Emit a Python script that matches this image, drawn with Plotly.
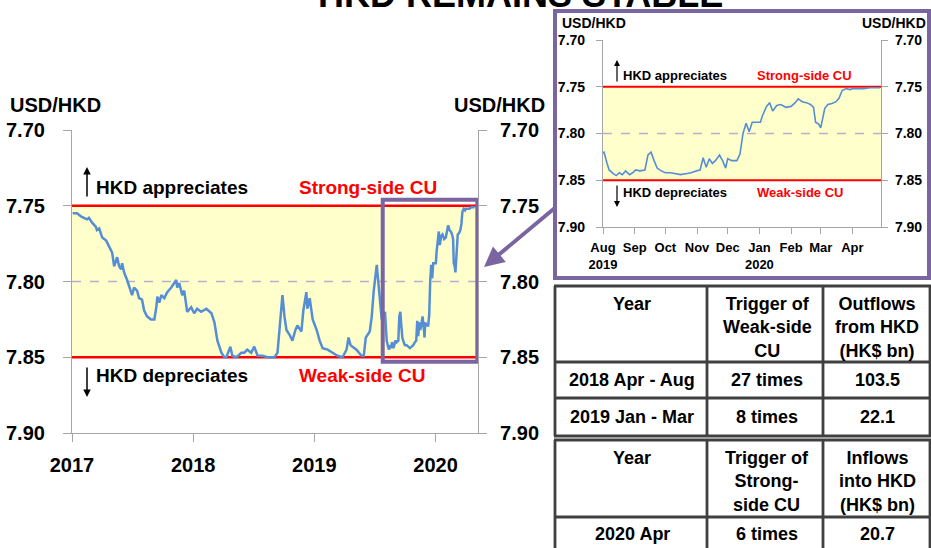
import plotly.graph_objects as go

# ---------------- data ----------------
dates = [
    "2017-01-03", "2017-01-16", "2017-01-28", "2017-02-06", "2017-02-15", "2017-02-21",
    "2017-03-02", "2017-03-14", "2017-03-17", "2017-03-24", "2017-04-02", "2017-04-14",
    "2017-04-23", "2017-05-02", "2017-05-08", "2017-05-17", "2017-05-23", "2017-05-29",
    "2017-06-01", "2017-06-07", "2017-06-16", "2017-06-28", "2017-07-01", "2017-07-07",
    "2017-07-16", "2017-07-22", "2017-07-31", "2017-08-06", "2017-08-15", "2017-08-27",
    "2017-09-06", "2017-09-12", "2017-09-15", "2017-09-21", "2017-09-27", "2017-10-06",
    "2017-10-15", "2017-10-27", "2017-11-05", "2017-11-11", "2017-11-14", "2017-11-20",
    "2017-11-29", "2017-12-05", "2017-12-14", "2017-12-26", "2018-01-04", "2018-01-13",
    "2018-01-25", "2018-02-10", "2018-02-25", "2018-03-06", "2018-03-15", "2018-03-27",
    "2018-04-05", "2018-04-11", "2018-04-23", "2018-04-29", "2018-05-11", "2018-05-26",
    "2018-06-04", "2018-06-13", "2018-06-25", "2018-07-04", "2018-07-14", "2018-07-29",
    "2018-08-13", "2018-09-03", "2018-09-12", "2018-09-21", "2018-09-27", "2018-10-03",
    "2018-10-09", "2018-10-18", "2018-10-27", "2018-11-05", "2018-11-11", "2018-11-23",
    "2018-11-29", "2018-12-08", "2018-12-11", "2018-12-18", "2018-12-27", "2019-01-08",
    "2019-01-17", "2019-01-26", "2019-02-10", "2019-02-25", "2019-03-12", "2019-03-27",
    "2019-04-08", "2019-04-14", "2019-04-20", "2019-04-26", "2019-05-08", "2019-05-23",
    "2019-05-30", "2019-06-05", "2019-06-11", "2019-06-17", "2019-06-23", "2019-06-29",
    "2019-07-08", "2019-07-11", "2019-07-17", "2019-07-23",
    "2019-08-01", "2019-08-02", "2019-08-05", "2019-08-07", "2019-08-11", "2019-08-14",
    "2019-08-17", "2019-08-20", "2019-08-23", "2019-08-27", "2019-08-30", "2019-09-02",
    "2019-09-06", "2019-09-11", "2019-09-14", "2019-09-17", "2019-09-20", "2019-09-23",
    "2019-09-27", "2019-10-01", "2019-10-06", "2019-10-11", "2019-10-16", "2019-10-21",
    "2019-10-26", "2019-10-31", "2019-11-04", "2019-11-07", "2019-11-10", "2019-11-13",
    "2019-11-16", "2019-11-19", "2019-11-23", "2019-11-26", "2019-11-29", "2019-12-01",
    "2019-12-05", "2019-12-10", "2019-12-13", "2019-12-16", "2019-12-19", "2019-12-22",
    "2019-12-25", "2019-12-29", "2020-01-02", "2020-01-04", "2020-01-08", "2020-01-11",
    "2020-01-14", "2020-01-18", "2020-01-22", "2020-01-27", "2020-02-01", "2020-02-05",
    "2020-02-08", "2020-02-12", "2020-02-16", "2020-02-20", "2020-02-23", "2020-02-25",
    "2020-02-28", "2020-03-01", "2020-03-02", "2020-03-05", "2020-03-08", "2020-03-12",
    "2020-03-16", "2020-03-19", "2020-03-22", "2020-03-26", "2020-03-30", "2020-04-01",
    "2020-04-06", "2020-04-12", "2020-04-18", "2020-04-24", "2020-04-28",
]
usd_hkd = [
    7.755, 7.755, 7.757, 7.758, 7.759, 7.758,
    7.761, 7.764, 7.766, 7.765, 7.771, 7.773,
    7.777, 7.781, 7.790, 7.784, 7.790, 7.792,
    7.788, 7.794, 7.799, 7.806, 7.809, 7.804,
    7.806, 7.811, 7.812, 7.819, 7.823, 7.825,
    7.825, 7.817, 7.810, 7.814, 7.809, 7.811,
    7.807, 7.804, 7.801, 7.799, 7.804, 7.801,
    7.809, 7.806, 7.820, 7.817, 7.821, 7.818,
    7.820, 7.818, 7.821, 7.827, 7.839, 7.847,
    7.850, 7.850, 7.843, 7.849, 7.850, 7.847,
    7.847, 7.845, 7.847, 7.843, 7.849, 7.849,
    7.850, 7.850, 7.847, 7.827, 7.809, 7.823,
    7.832, 7.835, 7.839, 7.832, 7.829, 7.833,
    7.819, 7.807, 7.818, 7.811, 7.825, 7.832,
    7.839, 7.844, 7.845, 7.847, 7.849, 7.850,
    7.845, 7.837, 7.842, 7.843, 7.845, 7.849,
    7.849, 7.837, 7.835, 7.833, 7.823, 7.806,
    7.789, 7.796, 7.806, 7.825,
    7.821, 7.820, 7.832, 7.839, 7.843, 7.845,
    7.842, 7.844, 7.840, 7.844, 7.842, 7.839,
    7.840, 7.839, 7.823, 7.820, 7.829, 7.837,
    7.840, 7.842, 7.842, 7.843, 7.844, 7.843,
    7.842, 7.840, 7.839, 7.826, 7.836, 7.827,
    7.832, 7.829, 7.823, 7.829, 7.837, 7.827,
    7.829, 7.829, 7.822, 7.800, 7.789, 7.798,
    7.788, 7.788, 7.788, 7.781, 7.771, 7.767,
    7.776, 7.770, 7.769, 7.772, 7.771, 7.767,
    7.763, 7.766, 7.767, 7.769, 7.772, 7.788,
    7.790, 7.794, 7.789, 7.773, 7.769, 7.768,
    7.766, 7.762, 7.754, 7.752, 7.753, 7.752,
    7.752, 7.752, 7.751, 7.751, 7.751,
]

strong_side_cu = 7.75
weak_side_cu = 7.85
mid_rate = 7.80
y_ticks = [7.70, 7.75, 7.80, 7.85, 7.90]

main_range = ["2017-01-01", "2020-05-08"]
main_year_ticks = ["2017-01-01", "2018-01-01", "2019-01-01", "2020-01-01"]
inset_start = "2019-08-01"
inset_range = ["2019-08-01", "2020-04-29"]
inset_month_ticks = ["2019-08-01", "2019-09-01", "2019-10-01", "2019-11-01", "2019-12-01",
                     "2020-01-01", "2020-02-01", "2020-03-01", "2020-04-01"]
inset_month_labels = ["Aug<br>2019", "Sep", "Oct", "Nov", "Dec", "Jan<br>2020", "Feb", "Mar", "Apr"]

t1_header = ["Year", "Trigger of<br>Weak-side<br>CU", "Outflows<br>from HKD<br>(HK$ bn)"]
t1_period = ["2018 Apr - Aug", "2019 Jan - Mar"]
t1_trigger = ["27 times", "8 times"]
t1_flows = [103.5, 22.1]
t2_header = ["Year", "Trigger of<br>Strong-<br>side CU", "Inflows<br>into HKD<br>(HK$ bn)"]
t2_period = ["2020 Apr"]
t2_trigger = ["6 times"]
t2_flows = [20.7]

# ---------------- styling ----------------
W, H = 931, 548
FONT = "Liberation Sans, Arial, sans-serif"
BLUE = "#558ED5"
RED = "#FF0000"
YELLOW = "#FFFFCC"
PURPLE = "#7A65A0"
AXIS = "#A6A6A6"
GRIDDASH = "#B8AECF"
TABLE_LINE = "#404040"
TABLE_FONT = 18


def px(x):
    return x / W


def py(y):
    return 1 - y / H


inset_dates = [d for d in dates if d >= inset_start]
inset_vals = [v for d, v in zip(dates, usd_hkd) if d >= inset_start]

fig = go.Figure()
fig.add_trace(go.Scatter(x=dates, y=usd_hkd, mode="lines", line=dict(color=BLUE, width=2.5),
                         xaxis="x", yaxis="y", showlegend=False, hoverinfo="skip"))
fig.add_trace(go.Scatter(x=dates, y=usd_hkd, mode="lines", line=dict(width=0), opacity=0,
                         xaxis="x", yaxis="y2", showlegend=False, hoverinfo="skip"))
fig.add_trace(go.Scatter(x=inset_dates, y=inset_vals, mode="lines", line=dict(color=BLUE, width=1.6),
                         xaxis="x2", yaxis="y3", showlegend=False, hoverinfo="skip"))
fig.add_trace(go.Scatter(x=inset_dates, y=inset_vals, mode="lines", line=dict(width=0), opacity=0,
                         xaxis="x2", yaxis="y4", showlegend=False, hoverinfo="skip"))


def yax(domain, side, size, ticklen, standoff, overlay=None, anchor=None):
    d = dict(domain=domain, range=[7.90, 7.70], tickvals=y_ticks, tickformat=".2f",
             showgrid=False, zeroline=False, showline=True, linecolor=AXIS, linewidth=1.2,
             ticks="outside", ticklen=ticklen, tickcolor=AXIS, tickwidth=1.2,
             ticklabelstandoff=standoff, side=side, fixedrange=True, automargin=False,
             tickfont=dict(family=FONT, size=size, color="black", weight="bold"))
    if overlay:
        d["overlaying"] = overlay
    if anchor:
        d["anchor"] = anchor
    return d


main_dom_x = [px(72), px(478)]
main_dom_y = [py(433), py(130)]
ins_dom_x = [px(603), px(881)]
ins_dom_y = [py(227), py(40)]

fig.update_layout(
    width=W, height=H, margin=dict(l=0, r=0, t=0, b=0, autoexpand=False),
    paper_bgcolor="white", plot_bgcolor="rgba(0,0,0,0)",
    font=dict(family=FONT, color="black"),
    xaxis=dict(domain=main_dom_x, type="date", range=main_range, anchor="y",
               tickvals=main_year_ticks, tickformat="%Y", showgrid=False, zeroline=False,
               showline=True, linecolor=AXIS, linewidth=1.2, ticks="outside", ticklen=8,
               tickcolor=AXIS, tickwidth=1.2, ticklabelstandoff=6, fixedrange=True,
               automargin=False,
               tickfont=dict(family=FONT, size=20, color="black", weight="bold")),
    yaxis=yax(main_dom_y, "left", 20, 8, 14, anchor="x"),
    yaxis2=yax(main_dom_y, "right", 20, 8, 9, overlay="y", anchor="x"),
    xaxis2=dict(domain=ins_dom_x, type="date", range=inset_range, anchor="y3",
                tickvals=inset_month_ticks, ticktext=inset_month_labels,
                showgrid=False, zeroline=False, showline=True,
                linecolor=AXIS, linewidth=1.2, ticks="outside", ticklen=6, tickcolor=AXIS,
                tickwidth=1.2, ticklabelstandoff=2, fixedrange=True, tickangle=0,
                automargin=False,
                tickfont=dict(family=FONT, size=13, color="black", weight="bold")),
    yaxis3=yax(ins_dom_y, "left", 14, 6, 8, anchor="x2"),
    yaxis4=yax(ins_dom_y, "right", 14, 6, 4, overlay="y3", anchor="x2"),
)

shapes = []
# inset frame
shapes.append(dict(type="rect", xref="paper", yref="paper", x0=px(555), x1=px(929),
                   y0=py(278), y1=py(11), fillcolor="white", line=dict(color=PURPLE, width=4),
                   layer="below"))
for xa, ya, rw in [("x", "y", 2.5), ("x2", "y3", 2)]:
    shapes.append(dict(type="rect", xref=f"{xa} domain", yref=ya, x0=0, x1=1,
                       y0=strong_side_cu, y1=weak_side_cu, fillcolor=YELLOW,
                       line=dict(width=0), layer="below"))
    shapes.append(dict(type="line", xref=f"{xa} domain", yref=ya, x0=0, x1=1,
                       y0=mid_rate, y1=mid_rate, line=dict(color=GRIDDASH, width=1.5, dash="dash"),
                       layer="below"))
    for lvl in (strong_side_cu, weak_side_cu):
        shapes.append(dict(type="line", xref=f"{xa} domain", yref=ya, x0=0, x1=1,
                           y0=lvl, y1=lvl, line=dict(color=RED, width=rw), layer="below"))
# highlight box on main chart
shapes.append(dict(type="rect", xref="x", yref="y", x0="2019-07-26", x1="2020-05-06",
                   y0=7.746, y1=7.853, line=dict(color=PURPLE, width=4), layer="above"))

ann = []


def text(t, x, y, size, color="black", xanchor="left", yanchor="middle"):
    ann.append(dict(text=f"<b>{t}</b>", x=px(x), y=py(y), xref="paper", yref="paper",
                    xanchor=xanchor, yanchor=yanchor, showarrow=False,
                    font=dict(family=FONT, size=size, color=color)))


def arrow(x, y_head, y_tail, width=1.5, color="black", ax=0, head=2, size=1.0):
    ann.append(dict(text="", x=px(x), y=py(y_head), xref="paper", yref="paper",
                    showarrow=True, ax=ax, ay=y_tail - y_head, arrowhead=head,
                    arrowsize=size, arrowwidth=width, arrowcolor=color))


# ---------------- tables (grid + text built from the lists) ----------------
col_edges = [555, 707, 823, 930]
col_centers = [632, 767, 877]


def table(header, columns, top, header_h, row_hs, bottom_open=False):
    row_edges = [top, top + header_h]
    for h in row_hs:
        row_edges.append(row_edges[-1] + h)
    bottom = row_edges[-1]
    for i, yv in enumerate(row_edges):
        if bottom_open and i == len(row_edges) - 1:
            continue
        shapes.append(dict(type="line", xref="paper", yref="paper", x0=px(col_edges[0] - 1),
                           x1=px(col_edges[-1] + 1), y0=py(yv), y1=py(yv),
                           line=dict(color=TABLE_LINE, width=2.8)))
    for xv in col_edges:
        shapes.append(dict(type="line", xref="paper", yref="paper", x0=px(xv), x1=px(xv),
                           y0=py(top), y1=py(bottom), line=dict(color=TABLE_LINE, width=2.8)))
    for c, h in enumerate(header):
        text(h, col_centers[c], top + 6, TABLE_FONT, xanchor="center", yanchor="top")
    for c, col in enumerate(columns):
        for r, v in enumerate(col):
            ymid = (row_edges[r + 1] + row_edges[r + 2]) / 2
            text(v, col_centers[c], ymid, TABLE_FONT, xanchor="center", yanchor="middle")


table(t1_header, [t1_period, t1_trigger, [f"{v:.1f}" for v in t1_flows]],
      top=286, header_h=76, row_hs=[36, 38])
table(t2_header, [t2_period, t2_trigger, [f"{v:.1f}" for v in t2_flows]],
      top=440, header_h=77, row_hs=[34], bottom_open=False)

# title (mostly clipped by top edge)
text("HKD REMAINS STABLE", 520, 17, 36, xanchor="center", yanchor="bottom")

# main chart labels
text("USD/HKD", 8, 105, 20)
text("USD/HKD", 547, 105, 20, xanchor="right")
text("HKD appreciates", 94, 187, 19)
text("Strong-side CU", 297, 187, 19, color=RED)
text("HKD depreciates", 94, 375, 19)
text("Weak-side CU", 297, 375, 19, color=RED)
arrow(87, 167, 198)
arrow(87, 397, 366)

# inset labels
text("USD/HKD", 560, 23, 14)
text("USD/HKD", 928, 23, 14, xanchor="right")
text("HKD appreciates", 621, 76, 13)
text("Strong-side CU", 755, 76, 13, color=RED)
text("HKD depreciates", 621, 192, 13)
text("Weak-side CU", 755, 192, 13, color=RED)
arrow(617, 60, 83, width=1.2)
arrow(617, 207, 184, width=1.2)

# connector arrow from inset to highlight box
ann.append(dict(text="", x=px(484), y=py(267), xref="paper", yref="paper", showarrow=True,
                ax=72, ay=-60, arrowhead=2, arrowsize=1, arrowwidth=4, arrowcolor=PURPLE))

fig.update_layout(shapes=shapes, annotations=ann)

fig.write_html("out.html", config={"displayModeBar": False},
               post_script="document.body.style.margin='0px';")
